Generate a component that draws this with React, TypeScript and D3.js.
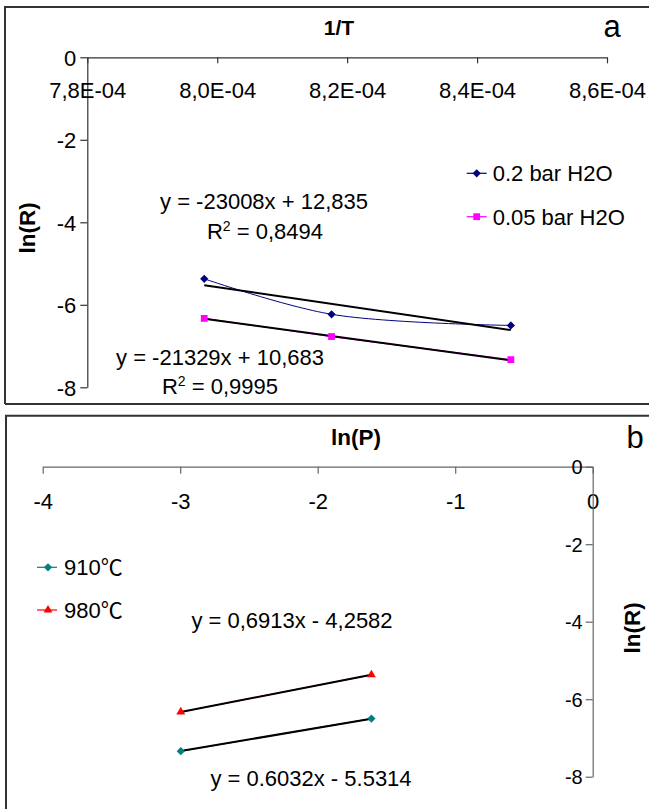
import React, { useEffect, useRef } from 'react';
import * as d3 from 'd3';

// ---------- Panel a data ----------
const invT = [7.98e-4, 8.176e-4, 8.452e-4];
const lnR_02bar = [-5.37, -6.23, -6.5];
const lnR_005bar = [-6.33, -6.77, -7.33];
const xTicksA = [7.8e-4, 8.0e-4, 8.2e-4, 8.4e-4, 8.6e-4];
const xTickLabelsA = ['7,8E-04', '8,0E-04', '8,2E-04', '8,4E-04', '8,6E-04'];
const yTicksA = [0, -2, -4, -6, -8];
const seriesNamesA = ['0.2 bar H2O', '0.05 bar H2O'];
const trendSlopeA = [-23008, -21329];
const trendInterceptA = [12.835, 10.683];
const equationsA = ['y = -23008x + 12,835', 'y = -21329x + 10,683'];
const r2A = [' = 0,8494', ' = 0,9995'];

// ---------- Panel b data ----------
const lnP = [-2.9957, -1.6094];
const lnR_910 = [-7.34, -6.5];
const lnR_980 = [-6.33, -5.37];
const xTicksB = [-4, -3, -2, -1, 0];
const yTicksB = [0, -2, -4, -6, -8];
const seriesNamesB = ['910', '980'];
const trendSlopeB = [0.6032, 0.6913];
const trendInterceptB = [-5.5314, -4.2582];
const equationsB = ['y = 0.6032x - 5.5314', 'y = 0,6913x - 4,2582'];

const FONT = "'Liberation Sans', Arial, sans-serif";
const FS = 22;

const xA = d3.scaleLinear().domain([7.8e-4, 8.6e-4]).range([87.3, 607]);
const yA = d3.scaleLinear().domain([0, -8]).range([57.3, 387.3]);
const xB = d3.scaleLinear().domain([-4, 0]).range([42.7, 592.7]);
const yB = d3.scaleLinear().domain([0, -8]).range([466.7, 776.7]);

const NAVY = '#000080';
const MAGENTA = '#FF00FF';
const TEAL = '#008080';
const RED = '#FF0000';

const diamond = d3.symbol(d3.symbolSquare, 34)() as string;
const square = d3.symbol(d3.symbolSquare, 46)() as string;
const triangle = d3.symbol(d3.symbolTriangle, 34)() as string;

function trend(xs: number[], slope: number, intercept: number) {
  const ext = d3.extent(xs) as [number, number];
  return ext.map((x) => [x, slope * x + intercept] as [number, number]);
}

export default function App() {
  const axAx = useRef<SVGGElement>(null);
  const axAy = useRef<SVGGElement>(null);
  const axBx = useRef<SVGGElement>(null);
  const axBy = useRef<SVGGElement>(null);

  useEffect(() => {
    const style = (g: d3.Selection<SVGGElement, unknown, null, undefined>, color: string, fs: number) => {
      g.select('.domain').attr('stroke', color).attr('stroke-width', 1.2);
      g.selectAll('.tick line').attr('stroke', color).attr('stroke-width', 1.2);
      g.selectAll('.tick text').attr('fill', '#000').style('font-family', FONT).style('font-size', fs + 'px');
      g.attr('font-family', null).attr('font-size', null);
    };
    const plain = (d: d3.NumberValue) => String(d);
    const gax = d3.select(axAx.current!);
    gax.call(
      d3.axisBottom(xA).tickValues(xTicksA).tickFormat((_d, i) => xTickLabelsA[i]).tickSizeInner(6).tickSizeOuter(0).tickPadding(19)
    );
    style(gax, '#333', FS);
    const gay = d3.select(axAy.current!);
    gay.call(d3.axisLeft(yA).tickValues(yTicksA).tickFormat(plain).tickSizeInner(7).tickSizeOuter(0).tickPadding(4));
    style(gay, '#333', FS);
    gay.selectAll('.tick text').attr('dy', '0.36em');

    const gbx = d3.select(axBx.current!);
    gbx.call(d3.axisBottom(xB).tickValues(xTicksB).tickFormat(plain).tickSizeInner(7).tickSizeOuter(0).tickPadding(20));
    style(gbx, '#666', FS);
    const gby = d3.select(axBy.current!);
    gby.call(d3.axisLeft(yB).tickValues(yTicksB).tickFormat(plain).tickSizeInner(7).tickSizeOuter(0).tickPadding(3));
    style(gby, '#666', 20);
    gby.selectAll('.tick text').attr('dy', '0.36em');
  }, []);

  const smooth = d3.line<[number, number]>().x((d) => xA(d[0])).y((d) => yA(d[1])).curve(d3.curveCatmullRom.alpha(0.5));
  const straightA = d3.line<[number, number]>().x((d) => xA(d[0])).y((d) => yA(d[1]));
  const straightB = d3.line<[number, number]>().x((d) => xB(d[0])).y((d) => yB(d[1]));

  const ptsA02 = invT.map((x, i) => [x, lnR_02bar[i]] as [number, number]);
  const ptsA005 = invT.map((x, i) => [x, lnR_005bar[i]] as [number, number]);
  const ptsB910 = lnP.map((x, i) => [x, lnR_910[i]] as [number, number]);
  const ptsB980 = lnP.map((x, i) => [x, lnR_980[i]] as [number, number]);

  const txt = { fontFamily: FONT, fontSize: FS, fill: '#000' } as const;

  return (
    <svg width={649} height={809} style={{ position: 'absolute', left: 0, top: 0, background: '#fff' }}>
      <rect x={0} y={0} width={649} height={809} fill="#fff" />
      {/* frames */}
      <path d="M 5 404 L 5 7 L 660 7 M 5 404 L 660 404" fill="none" stroke="#333" strokeWidth={2} />
      <path d="M 6 820 L 6 415.7 L 660 415.7" fill="none" stroke="#333" strokeWidth={2} />

      {/* ===== Panel a ===== */}
      <g ref={axAy} transform={`translate(${xA(7.8e-4)},0)`} />
      <g ref={axAx} transform={`translate(0,${yA(0)})`} />
      <text x={339} y={35} textAnchor="middle" style={{ ...txt, fontSize: 21, fontWeight: 'bold' }}>1/T</text>
      <text x={612} y={37} textAnchor="middle" style={{ ...txt, fontSize: 31 }}>a</text>
      <text transform="translate(35,228) rotate(-90)" textAnchor="middle" style={{ ...txt, fontSize: 22.5, fontWeight: 'bold' }}>ln(R)</text>

      <path d={smooth(ptsA02) as string} fill="none" stroke={NAVY} strokeWidth={1} />
      <path d={straightA(ptsA005) as string} fill="none" stroke={MAGENTA} strokeWidth={1.2} />
      <path d={straightA(trend(invT, trendSlopeA[0], trendInterceptA[0])) as string} fill="none" stroke="#000" strokeWidth={2} />
      <path d={straightA(trend(invT, trendSlopeA[1], trendInterceptA[1])) as string} fill="none" stroke="#000" strokeWidth={2} />
      {ptsA02.map((p, i) => (
        <path key={'d' + i} d={diamond} fill={NAVY} transform={`translate(${xA(p[0])},${yA(p[1])}) rotate(45)`} />
      ))}
      {ptsA005.map((p, i) => (
        <path key={'s' + i} d={square} fill={MAGENTA} transform={`translate(${xA(p[0])},${yA(p[1])})`} />
      ))}

      {/* legend a */}
      {[NAVY, MAGENTA].map((c, i) => {
        const y = 173.3 + i * 43.4;
        return (
          <g key={'la' + i}>
            <line x1={466.7} x2={486.7} y1={y} y2={y} stroke={c} strokeWidth={1.2} />
            <path d={i === 0 ? diamond : square} fill={c} transform={`translate(476.7,${y})${i === 0 ? ' rotate(45)' : ''}`} />
            <text x={492.7} y={y + 7.8} style={txt}>{seriesNamesA[i]}</text>
          </g>
        );
      })}

      {/* equations a */}
      <text x={264} y={209} textAnchor="middle" style={txt}>{equationsA[0]}</text>
      <text x={265} y={239} textAnchor="middle" style={txt}>R<tspan dy={-8} fontSize={14}>2</tspan><tspan dy={8}>{r2A[0]}</tspan></text>
      <text x={220} y={364.5} textAnchor="middle" style={txt}>{equationsA[1]}</text>
      <text x={220} y={394} textAnchor="middle" style={txt}>R<tspan dy={-8} fontSize={14}>2</tspan><tspan dy={8}>{r2A[1]}</tspan></text>

      {/* ===== Panel b ===== */}
      <g ref={axBx} transform={`translate(0,${yB(0)})`} />
      <g ref={axBy} transform={`translate(${xB(0)},0)`} />
      <text x={356} y={445} textAnchor="middle" style={{ ...txt, fontSize: 22.5, fontWeight: 'bold' }}>ln(P)</text>
      <text x={635} y={448} textAnchor="middle" style={{ ...txt, fontSize: 31 }}>b</text>
      <text transform="translate(640,628) rotate(-90)" textAnchor="middle" style={{ ...txt, fontSize: 22.5, fontWeight: 'bold' }}>ln(R)</text>

      <path d={straightB(ptsB910) as string} fill="none" stroke={TEAL} strokeWidth={1.2} />
      <path d={straightB(ptsB980) as string} fill="none" stroke={RED} strokeWidth={1.2} />
      <path d={straightB(trend(lnP, trendSlopeB[0], trendInterceptB[0])) as string} fill="none" stroke="#000" strokeWidth={2} />
      <path d={straightB(trend(lnP, trendSlopeB[1], trendInterceptB[1])) as string} fill="none" stroke="#000" strokeWidth={2} />
      {ptsB910.map((p, i) => (
        <path key={'t' + i} d={diamond} fill={TEAL} transform={`translate(${xB(p[0])},${yB(p[1])}) rotate(45)`} />
      ))}
      {ptsB980.map((p, i) => (
        <path key={'r' + i} d={triangle} fill={RED} transform={`translate(${xB(p[0])},${yB(p[1])})`} />
      ))}

      {/* legend b */}
      {[TEAL, RED].map((c, i) => {
        const y = 567.3 + i * 42.7;
        return (
          <g key={'lb' + i}>
            <line x1={37} x2={57} y1={y} y2={y} stroke={c} strokeWidth={1.2} />
            <path d={i === 0 ? diamond : triangle} fill={c} transform={`translate(48,${y})${i === 0 ? ' rotate(45)' : ''}`} />
            <text x={64} y={y + 7.8} style={txt}>
              {seriesNamesB[i]}
              <tspan style={{ fontFamily: "'Noto Sans CJK SC', sans-serif" }}>℃</tspan>
            </text>
          </g>
        );
      })}

      {/* equations b */}
      <text x={292} y={627.5} textAnchor="middle" style={txt}>{equationsB[1]}</text>
      <text x={311} y={786} textAnchor="middle" style={txt}>{equationsB[0]}</text>
    </svg>
  );
}
